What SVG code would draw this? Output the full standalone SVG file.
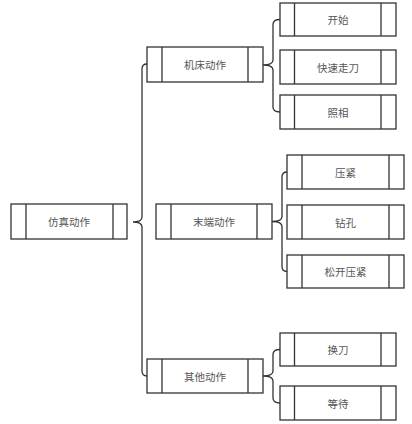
<svg xmlns="http://www.w3.org/2000/svg" width="412" height="424" viewBox="0 0 412 424">
<style>
.box{fill:#fff;stroke:#333;stroke-width:1.3}
.div{stroke:#333;stroke-width:1.3;fill:none}
.t{font-family:"Noto Sans CJK SC","Liberation Sans",sans-serif;font-size:10.5px;fill:#555;text-anchor:middle;dominant-baseline:central}
.br{fill:none;stroke:#333;stroke-width:1.3}
</style>
<rect width="412" height="424" fill="#fff"/>
<g id="connectors">
<path class="br" d="M147,64 Q142,64 142,69 L142,217 Q142,222 133,222 Q142,222 142,227 L142,371 Q142,376 147,376"/>
<path class="br" d="M280,19.5 Q273,19.5 273,24.5 L273,60 Q273,65 263,65 Q273,65 273,70 L273,107 Q273,112 280,112"/>
<path class="br" d="M287,172 Q282,172 282,177 L282,216.5 Q282,221.5 272,221.5 Q282,221.5 282,226.5 L282,266.5 Q282,271.5 287,271.5"/>
<path class="br" d="M280,349.5 Q273,349.5 273,354.5 L273,371 Q273,376 263,376 Q273,376 273,381 L273,398 Q273,403 280,403"/>
</g>
<g id="root">
<rect class="box" x="11" y="204" width="116" height="35"/>
<path class="div" d="M26,204V239M113,204V239"/>
<text class="t" x="69" y="221.5">仿真动作</text>
</g>
<g id="n-jichuang">
<rect class="box" x="147" y="47" width="116" height="35"/>
<path class="div" d="M162,47V82M248,47V82"/>
<text class="t" x="205" y="64.5">机床动作</text>
</g>
<g id="n-moduan">
<rect class="box" x="156" y="204" width="116" height="35"/>
<path class="div" d="M171,204V239M257,204V239"/>
<text class="t" x="214" y="221.5">末端动作</text>
</g>
<g id="n-qita">
<rect class="box" x="147" y="359" width="116" height="34"/>
<path class="div" d="M162,359V393M248,359V393"/>
<text class="t" x="205" y="376">其他动作</text>
</g>
<g id="n-kaishi">
<rect class="box" x="280" y="3" width="116" height="33"/>
<path class="div" d="M294.5,3V36M381,3V36"/>
<text class="t" x="338" y="19.5">开始</text>
</g>
<g id="n-kuaisu">
<rect class="box" x="280" y="50" width="116" height="34"/>
<path class="div" d="M294.5,50V84M381,50V84"/>
<text class="t" x="338" y="67">快速走刀</text>
</g>
<g id="n-zhaoxiang">
<rect class="box" x="280" y="95" width="116" height="34"/>
<path class="div" d="M294.5,95V129M381,95V129"/>
<text class="t" x="338" y="112">照相</text>
</g>
<g id="n-yajin">
<rect class="box" x="287" y="155" width="117" height="34"/>
<path class="div" d="M302,155V189M389,155V189"/>
<text class="t" x="345.5" y="172">压紧</text>
</g>
<g id="n-zuankong">
<rect class="box" x="287" y="205" width="117" height="34"/>
<path class="div" d="M302,205V239M389,205V239"/>
<text class="t" x="345.5" y="222">钻孔</text>
</g>
<g id="n-songkai">
<rect class="box" x="287" y="255" width="117" height="33"/>
<path class="div" d="M302,255V288M389,255V288"/>
<text class="t" x="345.5" y="271.5">松开压紧</text>
</g>
<g id="n-huandao">
<rect class="box" x="280" y="333" width="116" height="33"/>
<path class="div" d="M294.5,333V366M381,333V366"/>
<text class="t" x="338" y="349.5">换刀</text>
</g>
<g id="n-dengdai">
<rect class="box" x="280" y="386" width="116" height="34"/>
<path class="div" d="M294.5,386V420M381,386V420"/>
<text class="t" x="338" y="403">等待</text>
</g>
</svg>
